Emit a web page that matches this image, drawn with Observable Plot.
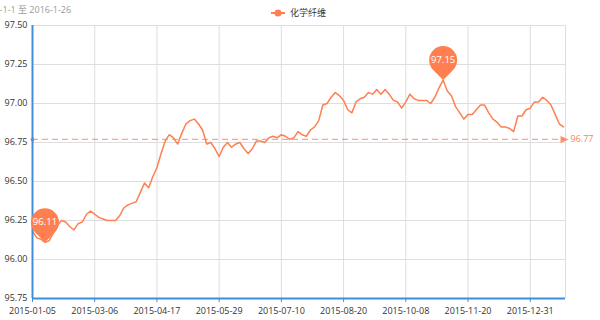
<!DOCTYPE html>
<html>
<head>
<meta charset="utf-8">
<script src="https://cdn.jsdelivr.net/npm/d3@7"></script>
<script src="https://cdn.jsdelivr.net/npm/@observablehq/plot@0.6"></script>
<style>
  body { margin: 0; background: #fff; }
  #wrap { position: relative; width: 600px; height: 320px; overflow: hidden;
          font-family: 'Open Sans', 'Noto Sans CJK SC', sans-serif; }
  #chart { position: absolute; left: 0; top: 0; }
  #title { position: absolute; left: -21px; top: 3px; font-size: 9px; color: #999; white-space: nowrap; }
  #legend { position: absolute; left: 271px; top: 6px; font-size: 9px; color: #333;
            display: flex; align-items: center; white-space: nowrap; }
  #legend span { margin-left: 5px; }
</style>
</head>
<body>
<div id="wrap">
  <div id="chart"></div>
  <div id="title"></div>
  <div id="legend"></div>
</div>
<script>
// ---- data ----
const titleText = "2015-1-1 至 2016-1-26";
const seriesName = "化学纤维";
const categoryCount = 258;          // trading days on the category axis
const sampleStep = 2;               // one value read every 2 categories
const values = [
  96.18, 96.14, 96.13, 96.11, 96.12, 96.17, 96.22, 96.25, 96.24, 96.21,
  96.19, 96.23, 96.24, 96.29, 96.31, 96.29, 96.27, 96.26, 96.25, 96.25,
  96.25, 96.28, 96.33, 96.35, 96.36, 96.37, 96.43, 96.49, 96.46, 96.53,
  96.59, 96.68, 96.76, 96.80, 96.78, 96.74, 96.81, 96.87, 96.89, 96.90,
  96.87, 96.83, 96.74, 96.75, 96.71, 96.66, 96.72, 96.75, 96.72, 96.74,
  96.75, 96.71, 96.68, 96.71, 96.76, 96.76, 96.75, 96.78, 96.79, 96.78,
  96.80, 96.79, 96.77, 96.78, 96.82, 96.80, 96.79, 96.83, 96.85, 96.89,
  96.99, 97.00, 97.04, 97.07, 97.05, 97.02, 96.96, 96.94, 97.01, 97.03,
  97.04, 97.07, 97.06, 97.09, 97.06, 97.09, 97.06, 97.02, 97.01, 96.97,
  97.01, 97.06, 97.03, 97.02, 97.02, 97.02, 97.00, 97.04, 97.10, 97.15,
  97.08, 97.05, 96.98, 96.94, 96.90, 96.93, 96.93, 96.96, 96.99, 96.99,
  96.94, 96.90, 96.88, 96.85, 96.85, 96.84, 96.82, 96.92, 96.92, 96.96,
  96.97, 97.01, 97.01, 97.04, 97.02, 96.99, 96.93, 96.87, 96.85
];
const averageValue = 96.77;
const xTickIndex = [0, 30, 60, 90, 120, 150, 180, 210, 240];
const xTickLabels = ["2015-01-05", "2015-03-06", "2015-04-17", "2015-05-29", "2015-07-10",
                     "2015-08-20", "2015-10-08", "2015-11-20", "2015-12-31"];
const yTicks = [95.75, 96.00, 96.25, 96.50, 96.75, 97.00, 97.25, 97.50];
const yTickLabels = ["95.75", "96.00", "96.25", "96.50", "96.75", "97.00", "97.25", "97.50"];

// ---- styling ----
const lineColor = "#ff7f50";
const axisColor = "#3f8fd8";
const gridColor = "#dedede";

const lastIndex = categoryCount - 1;
const data = values.map((v, k) => ({ i: k * sampleStep, v }));
const maxPt = data.reduce((a, b) => (b.v > a.v ? b : a));
const minPt = data.reduce((a, b) => (b.v < a.v ? b : a));
const pins = [maxPt, minPt];

// balloon (pin) symbol with its tip on the data point
const pinSymbol = {
  draw(ctx) {
    const R = 14, h = 20;
    const a = Math.acos(R / h);
    const tx = R * Math.sin(a), ty = -h + R * Math.cos(a);
    ctx.moveTo(0, 0);
    ctx.lineTo(-tx, ty);
    ctx.arc(0, -h, R, Math.PI / 2 + a, Math.PI / 2 - a + 2 * Math.PI, false);
    ctx.closePath();
  }
};
const arrowSymbol = {
  draw(ctx) {
    ctx.moveTo(3, 0);
    ctx.lineTo(-5, -3.5);
    ctx.lineTo(-5, 3.5);
    ctx.closePath();
  }
};

const chart = Plot.plot({
  width: 600,
  height: 320,
  marginLeft: 32,
  marginRight: 35,
  marginTop: 25,
  marginBottom: 22,
  style: { fontFamily: "'Open Sans', 'Noto Sans CJK SC', sans-serif", fontSize: "9px", color: "#333", background: "transparent" },
  x: { domain: [0, lastIndex] },
  y: { domain: [yTicks[0], yTicks[yTicks.length - 1]] },
  marks: [
    Plot.ruleY(yTicks, { stroke: gridColor, strokeWidth: 1 }),
    Plot.ruleX([...xTickIndex, lastIndex], { stroke: gridColor, strokeWidth: 1 }),
    Plot.ruleY([averageValue], { x1: 0, x2: lastIndex, stroke: lineColor, strokeOpacity: 0.7, strokeDasharray: "6,4", strokeWidth: 1.2 }),
    Plot.dot([averageValue], { x: () => 0, y: d => d, r: 2, fill: lineColor, stroke: null }),
    Plot.dot([averageValue], { x: () => lastIndex, y: d => d, symbol: arrowSymbol, fill: lineColor, fillOpacity: 0.85, stroke: null }),
    Plot.text([averageValue], { x: () => lastIndex, y: d => d, text: d => d.toFixed(2), dx: 5, textAnchor: "start", fill: lineColor, fontSize: 9 }),
    Plot.line(data, { x: "i", y: "v", stroke: lineColor, strokeWidth: 1.5 }),
    Plot.ruleX([0], { stroke: axisColor, strokeWidth: 2 }),
    Plot.ruleY([yTicks[0]], { stroke: axisColor, strokeWidth: 2 }),
    Plot.dot(pins, { x: "i", y: "v", symbol: pinSymbol, fill: lineColor, stroke: null }),
    Plot.text(pins, { x: "i", y: "v", text: d => d.v.toFixed(2), dy: -20, fill: "#fff", fontSize: 9.5 }),
    Plot.axisY(yTicks, { tickSize: 0, tickPadding: 5, label: null, fill: "#333",
      tickFormat: d => yTickLabels[yTicks.indexOf(d)] }),
    Plot.axisX(xTickIndex, { tickSize: 4, tickPadding: 5, label: null, fill: "#333", stroke: axisColor,
      tickFormat: d => xTickLabels[xTickIndex.indexOf(d)] })
  ]
});
document.getElementById("chart").appendChild(chart);
document.getElementById("title").textContent = titleText;
document.getElementById("legend").innerHTML =
  `<svg width="14" height="8"><line x1="0" y1="4" x2="14" y2="4" stroke="${lineColor}" stroke-width="2"/>` +
  `<circle cx="7" cy="4" r="3.5" fill="${lineColor}"/></svg><span></span>`;
document.querySelector("#legend span").textContent = seriesName;
</script>
</body>
</html>
